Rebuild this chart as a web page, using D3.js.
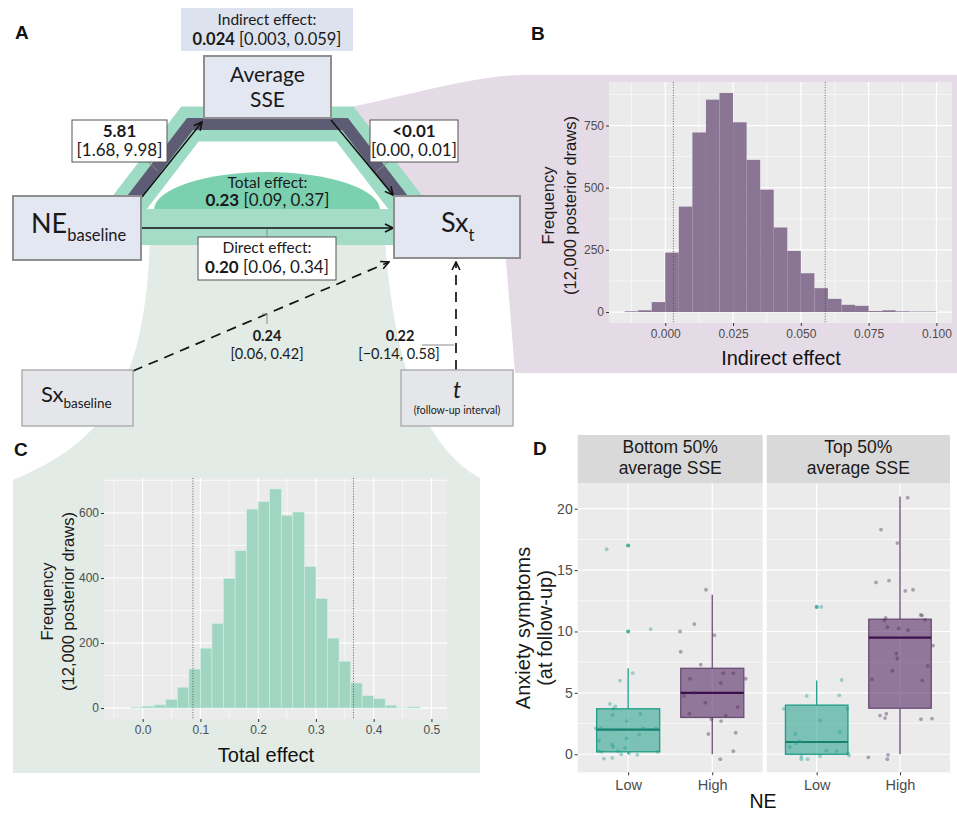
<!DOCTYPE html>
<html>
<head>
<meta charset="utf-8">
<script src="https://cdn.jsdelivr.net/npm/d3@7"></script>
<style>
  body { margin: 0; background: #fff; }
  svg { display: block; font-family: "Liberation Sans", Arial, sans-serif; }
  .dg { font-family: Lato, "Open Sans", sans-serif; fill: #1a1a1a; }
</style>
</head>
<body>
<svg id="fig" width="957" height="814"></svg>
<script>
// ---------- data ----------
// panel B: posterior draws of the indirect effect (bin lower edges + counts)
const indirectBins = [-0.015, -0.010, -0.005, 0.000, 0.005, 0.010, 0.015, 0.020, 0.025, 0.030, 0.035, 0.040,
                      0.045, 0.050, 0.055, 0.060, 0.065, 0.070, 0.075, 0.080, 0.085, 0.090, 0.095];
const indirectCounts = [3, 7, 40, 239, 424, 722, 854, 881, 763, 612, 492, 340, 246, 156, 96, 53, 29, 25, 4, 7, 3, 2, 2];
const indirectCI = [0.003, 0.059];
const indirectXTicks = [0, 0.025, 0.05, 0.075, 0.1];
const indirectYTicks = [0, 250, 500, 750];

// panel C: posterior draws of the total effect
const totalBins = [-0.04, -0.02, 0.00, 0.02, 0.04, 0.06, 0.08, 0.10, 0.12, 0.14, 0.16, 0.18, 0.20, 0.22,
                   0.24, 0.26, 0.28, 0.30, 0.32, 0.34, 0.36, 0.38, 0.40, 0.42, 0.44, 0.46, 0.48];
const totalCounts = [0, 3, 6, 10, 27, 64, 120, 184, 260, 399, 484, 612, 635, 674, 593, 603, 435, 337, 215, 144, 77, 38, 29, 9, 1, 4, 0];
const totalCI = [0.087, 0.365];
const totalXTicks = [0, 0.1, 0.2, 0.3, 0.4, 0.5];
const totalYTicks = [0, 200, 400, 600];

// panel D: boxplots, order = [bottom/Low, bottom/High, top/Low, top/High]
const facetNames = [["Bottom 50%", "average SSE"], ["Top 50%", "average SSE"]];
const neLevels = ["Low", "High"];
const boxWhiskLo = [0, 0, 0, 0];
const boxQ1 = [0.2, 3, 0, 3.75];
const boxMed = [2, 5, 1, 9.5];
const boxQ3 = [3.7, 7, 4, 11];
const boxWhiskHi = [7, 13, 6, 21];
const boxOutliers = [[10, 17], [], [12], []];
const anxietyYTicks = [0, 5, 10, 15, 20];
// jittered raw points: [horizontal jitter (category units), anxiety symptoms]
const ptsBottomLow = [[-0.256,16.7],[0.268,10.2],[0.054,6.6],[-0.098,6.0],[-0.216,4.1],[-0.153,3.9],[-0.177,3.7],
  [-0.184,3.2],[0.144,3.3],[-0.018,2.7],[-0.383,2.1],[-0.323,2.1],[-0.244,2.0],[0.18,2.1],[0.33,2.1],[0.132,1.6],
  [-0.018,1.3],[-0.347,1.1],[-0.189,0.8],[-0.181,0.6],[-0.038,0.5],[-0.351,0.25],[-0.315,0.2],[-0.125,0.25],
  [0.351,0.2],[-0.082,0.0],[0.013,0.1],[0.108,-0.05],[-0.288,-0.35],[-0.189,-0.3]];
const ptsBottomHigh = [[-0.074,13.4],[-0.213,10.6],[-0.383,10.0],[0.025,9.7],[-0.375,8.35],[-0.137,7.3],[-0.264,6.15],
  [0.132,6.6],[0.251,6.6],[0.398,6.15],[0.101,5.8],[-0.335,4.75],[-0.216,5.0],[-0.082,4.2],[0.303,3.85],[-0.272,3.3],
  [-0.011,2.85],[0.105,2.7],[0.161,3.15],[-0.046,1.65],[0.279,1.75],[0.251,0.25],[0.096,-0.4]];
const ptsTopLow = [[0.055,12.0],[0.3,6.05],[-0.12,4.75],[0.271,4.8],[-0.396,3.7],[0.367,3.7],[0.043,2.75],[0.276,1.8],
  [-0.257,1.65],[-0.204,1.05],[-0.248,0.9],[-0.324,0.6],[0.115,0.3],[0.24,0.25],[0.376,0.1],[0.388,-0.1],[0.04,-0.15],
  [-0.185,-0.2],[-0.185,-0.4],[-0.108,-0.4]];
const ptsTopHigh = [[0.092,20.9],[-0.228,18.3],[-0.032,17.2],[-0.288,14.0],[-0.132,14.15],[0.064,13.3],[0.156,13.4],
  [0.248,11.35],[0.264,11.3],[0.3,10.95],[-0.172,11.1],[-0.188,10.9],[-0.152,10.35],[-0.016,10.25],[0.096,10.1],
  [0.396,8.85],[-0.044,8.2],[-0.032,7.8],[0.332,7.2],[-0.092,6.8],[-0.336,6.1],[0.268,6.0],[-0.24,3.15],[-0.164,3.3],
  [-0.18,2.95],[0.252,2.85],[0.384,2.9],[-0.38,-0.25],[-0.144,-0.05],[-0.152,-0.4]];

// panel A: path estimates and credible intervals
const aPathEst = "5.81", aPathCI = "[1.68, 9.98]";
const bPathEst = "<0.01", bPathCI = "[0.00, 0.01]";
const indirectEst = "0.024", indirectInt = "[0.003, 0.059]";
const totalEst = "0.23", totalInt = "[0.09, 0.37]";
const directEst = "0.20", directInt = "[0.06, 0.34]";
const sxBaseEst = "0.24", sxBaseInt = "[0.06, 0.42]";
const tEst = "0.22", tInt = "[\u22120.14, 0.58]";

// ---------- drawing ----------
const svg = d3.select("#fig");

// backdrop shapes linking the diagram to panels B and C
svg.append("path")
  .attr("d", "M335,110 C400,98 470,76 520,75 L957,75 L957,373 L515,373 C511,320 508,285 505,250 L420,200 L400,190 Z")
  .attr("fill", "#e5dbe6");
svg.append("path")
  .attr("d", "M150,240 C145,380 110,440 13,480 L13,773 L480,773 L480,478 C430,450 395,380 385,240 Z")
  .attr("fill", "#e2ebe6");

// indirect path bands
const bandLine = d3.line();
const bandPts = [[104, 236], [190, 124], [345, 124], [431, 236]];
svg.append("path").attr("d", bandLine(bandPts)).attr("fill", "none")
  .attr("stroke", "#9edbc5").attr("stroke-width", 35).attr("stroke-linejoin", "miter");
svg.append("path").attr("d", bandLine(bandPts)).attr("fill", "none")
  .attr("stroke", "#5e5c74").attr("stroke-width", 12).attr("stroke-linejoin", "miter");

// total effect dome + direct band
svg.append("path").attr("d", "M154,210 A113,38 0 0 1 380,210 Z").attr("fill", "#7bd0b0");
svg.append("rect").attr("x", 130).attr("y", 209).attr("width", 280).attr("height", 36).attr("fill", "#a5dcc8");

// arrows
const defs = svg.append("defs");
defs.append("marker").attr("id", "arr").attr("viewBox", "0 0 10 10").attr("refX", 9).attr("refY", 5)
  .attr("markerWidth", 10).attr("markerHeight", 10).attr("markerUnits", "userSpaceOnUse").attr("orient", "auto")
  .append("path").attr("d", "M1,1 L9,5 L1,9").attr("fill", "none").attr("stroke", "#111").attr("stroke-width", 1.6);

const arrows = svg.append("g").attr("stroke", "#111").attr("stroke-width", 1.5).attr("fill", "none");
arrows.append("line").attr("x1", 142).attr("y1", 197).attr("x2", 202).attr("y2", 122).attr("marker-end", "url(#arr)");
arrows.append("line").attr("x1", 331).attr("y1", 120).attr("x2", 393).attr("y2", 195).attr("marker-end", "url(#arr)");
arrows.append("line").attr("x1", 141).attr("y1", 228).attr("x2", 393).attr("y2", 228).attr("marker-end", "url(#arr)");
arrows.append("line").attr("x1", 133).attr("y1", 371).attr("x2", 389).attr("y2", 262)
  .attr("stroke-dasharray", "10,7").attr("stroke-width", 1.7).attr("marker-end", "url(#arr)");
arrows.append("line").attr("x1", 456).attr("y1", 370).attr("x2", 456).attr("y2", 262)
  .attr("stroke-dasharray", "10,7").attr("stroke-width", 1.7).attr("marker-end", "url(#arr)");

// leader lines
const leaders = svg.append("g").attr("stroke", "#8a8a8a").attr("stroke-width", 1).attr("fill", "none");
leaders.append("path").attr("d", "M148,162 L158,171");
leaders.append("path").attr("d", "M388,162 L376,172");
leaders.append("path").attr("d", "M267,229 L267,237");
leaders.append("path").attr("d", "M262,314 L267,314 L267,324");
leaders.append("path").attr("d", "M422,345 L454,345");

// node boxes
function node(x, y, w, h, fill, stroke, sw) {
  svg.append("rect").attr("x", x).attr("y", y).attr("width", w).attr("height", h)
    .attr("fill", fill).attr("stroke", stroke).attr("stroke-width", sw);
}
node(204, 56, 127, 62, "#e2e7f2", "#8f8f8f", 2);
node(13, 196, 128, 64, "#e2e7f2", "#8f8f8f", 2);
node(394, 196, 126, 62, "#e2e7f2", "#8f8f8f", 2);
node(22, 370, 111, 56, "#e4e6ea", "#b0b0b0", 1.5);
node(401, 370, 112, 56, "#e4e6ea", "#b0b0b0", 1.5);
svg.append("rect").attr("x", 181).attr("y", 8).attr("width", 172).attr("height", 43).attr("fill", "#dde3ee");
node(72, 120, 95, 42, "#fff", "#555", 1);
node(370, 120, 88, 42, "#fff", "#555", 1);
node(198, 237, 138, 43, "#fff", "#555", 1);

// diagram text
function rich(x, y, parts, size, anchor) {
  const t = svg.append("text").attr("class", "dg").attr("x", x).attr("y", y)
    .attr("font-size", size).attr("text-anchor", anchor || "middle");
  parts.forEach(([s, b]) => t.append("tspan").attr("font-weight", b ? 700 : 400).text(s));
  return t;
}
rich(267, 25, [["Indirect effect:"]], 15.5);
rich(267, 45, [[indirectEst, 1], [" " + indirectInt]], 16.5);
rich(267.5, 82, [["Average"]], 21);
rich(267.5, 107, [["SSE"]], 21);
rich(119.5, 137, [[aPathEst, 1]], 17);
rich(119.5, 156, [[aPathCI]], 17);
rich(414, 137, [[bPathEst, 1]], 17);
rich(414, 156, [[bPathCI]], 17);
rich(267.5, 188, [["Total effect:"]], 15.5);
rich(267.5, 206, [[totalEst, 1], [" " + totalInt]], 17);
rich(267, 253, [["Direct effect:"]], 15.5);
rich(267, 273, [[directEst, 1], [" " + directInt]], 17);
rich(267, 341, [[sxBaseEst, 1]], 14.5);
rich(267, 359, [[sxBaseInt]], 14.5);
rich(400, 341, [[tEst, 1]], 14.5);
rich(399, 359, [[tInt]], 14.5);

const ne = svg.append("text").attr("class", "dg").attr("x", 31).attr("y", 233).attr("font-size", 27);
ne.append("tspan").text("NE");
ne.append("tspan").attr("font-size", 16.5).attr("dy", 8).text("baseline");
const sxt = svg.append("text").attr("class", "dg").attr("x", 441).attr("y", 232).attr("font-size", 27);
sxt.append("tspan").text("Sx");
sxt.append("tspan").attr("font-size", 16.5).attr("dy", 9).text("t");
const sxb = svg.append("text").attr("class", "dg").attr("x", 41).attr("y", 402).attr("font-size", 22);
sxb.append("tspan").text("Sx");
sxb.append("tspan").attr("font-size", 13.5).attr("dy", 6).text("baseline");
svg.append("text").attr("class", "dg").attr("x", 457).attr("y", 398).attr("font-size", 23)
  .attr("font-style", "italic").attr("text-anchor", "middle").text("t");
svg.append("text").attr("class", "dg").attr("x", 457).attr("y", 414).attr("font-size", 10.5)
  .attr("text-anchor", "middle").text("(follow-up interval)");

// panel letters
[["A", 15, 39], ["B", 531, 40], ["C", 14, 456], ["D", 533, 455]].forEach(([l, x, y]) =>
  svg.append("text").attr("x", x).attr("y", y).attr("font-size", 19).attr("font-weight", 700)
    .attr("fill", "#111").text(l));

// ---------- ggplot-like helpers ----------
function minorTicks(ticks, domain) {
  const step = ticks[1] - ticks[0];
  return d3.range(ticks[0] - step / 2, ticks[ticks.length - 1] + step, step)
    .filter(v => v > domain[0] && v < domain[1]);
}
function styleAxis(g, size) {
  g.select(".domain").remove();
  g.selectAll(".tick line").attr("stroke", "#333").attr("stroke-width", 1);
  g.selectAll(".tick text").attr("fill", "#4d4d4d").attr("font-size", size)
    .attr("font-family", "'Liberation Sans', Arial, sans-serif");
}
function panelBg(g, box) {
  g.append("rect").attr("x", box.l).attr("y", box.t).attr("width", box.r - box.l).attr("height", box.b - box.t)
    .attr("fill", "#ebebeb");
}
function grid(g, x, y, xMaj, xMin, yMaj, yMin, box) {
  const gr = g.append("g").attr("stroke", "#fff").attr("fill", "none");
  yMin.forEach(v => gr.append("line").attr("x1", box.l).attr("x2", box.r).attr("y1", y(v)).attr("y2", y(v)).attr("stroke-width", 0.6));
  xMin.forEach(v => gr.append("line").attr("y1", box.t).attr("y2", box.b).attr("x1", x(v)).attr("x2", x(v)).attr("stroke-width", 0.6));
  yMaj.forEach(v => gr.append("line").attr("x1", box.l).attr("x2", box.r).attr("y1", y(v)).attr("y2", y(v)).attr("stroke-width", 1.2));
  xMaj.forEach(v => gr.append("line").attr("y1", box.t).attr("y2", box.b).attr("x1", x(v)).attr("x2", x(v)).attr("stroke-width", 1.2));
}
function yTitle(lines, xs, cy, size) {
  lines.forEach((s, i) => svg.append("text").attr("transform", `translate(${xs[i]},${cy}) rotate(-90)`)
    .attr("text-anchor", "middle").attr("font-size", size).attr("fill", "#1a1a1a").text(s));
}

function histogram(o) {
  const w = o.bins[1] - o.bins[0];
  const lo = o.bins[0], hi = o.bins[o.bins.length - 1] + w, pad = (hi - lo) * 0.05;
  const x = d3.scaleLinear().domain([lo - pad, hi + pad]).range([o.box.l, o.box.r]);
  const ymax = d3.max(o.counts);
  const y = d3.scaleLinear().domain([-ymax * 0.05, ymax * 1.05]).range([o.box.b, o.box.t]);
  const g = svg.append("g");
  panelBg(g, o.box);
  grid(g, x, y, o.xTicks, minorTicks(o.xTicks, x.domain()), o.yTicks, minorTicks(o.yTicks, y.domain()), o.box);
  g.append("g").selectAll("rect").data(o.counts.map((c, i) => ({ x0: o.bins[i], c })).filter(d => d.c > 0))
    .join("rect")
    .attr("x", d => x(d.x0)).attr("width", d => x(d.x0 + w) - x(d.x0))
    .attr("y", d => y(d.c)).attr("height", d => y(0) - y(d.c))
    .attr("fill", o.fill).attr("stroke", o.stroke).attr("stroke-width", o.stroke === "none" ? 0 : 0.6);
  g.append("g").selectAll("line").data(o.ci).join("line")
    .attr("x1", d => x(d)).attr("x2", d => x(d)).attr("y1", o.box.t).attr("y2", o.box.b)
    .attr("stroke", "#444").attr("stroke-width", 0.8).attr("stroke-dasharray", "1,1.6");
  const ax = g.append("g").attr("transform", `translate(0,${o.box.b})`)
    .call(d3.axisBottom(x).tickValues(o.xTicks).tickSize(3).tickPadding(3).tickFormat(o.fmt));
  styleAxis(ax, 12);
  const ay = g.append("g").attr("transform", `translate(${o.box.l},0)`)
    .call(d3.axisLeft(y).tickValues(o.yTicks).tickSize(3).tickPadding(2));
  styleAxis(ay, 12);
  svg.append("text").attr("x", o.titleX).attr("y", o.titleY).attr("text-anchor", "middle")
    .attr("font-size", 20).attr("fill", "#111").text(o.title);
  yTitle(["Frequency", "(12,000 posterior draws)"], o.yTitleX, (o.box.t + o.box.b) / 2 + 3, 16.5);
}

histogram({
  bins: indirectBins, counts: indirectCounts, ci: indirectCI, xTicks: indirectXTicks, yTicks: indirectYTicks,
  box: { l: 609, r: 952, t: 82, b: 323 }, fill: "#8b7595", stroke: "none", fmt: d3.format(".3f"),
  title: "Indirect effect", titleX: 781, titleY: 365, yTitleX: [554, 576]
});
histogram({
  bins: totalBins, counts: totalCounts, ci: totalCI, xTicks: totalXTicks, yTicks: totalYTicks,
  box: { l: 104, r: 447, t: 478, b: 719 }, fill: "#a0d6c1", stroke: "#d3ede3", fmt: d3.format(".1f"),
  title: "Total effect", titleX: 266, titleY: 762, yTitleX: [53, 74]
});

// ---------- panel D ----------
const facetBoxes = [{ l: 577.7, r: 762.7 }, { l: 766.7, r: 950 }];
const dTop = 483.3, dBot = 772.3, stripTop = 435;
const allPts = [ptsBottomLow, ptsBottomHigh, ptsTopLow, ptsTopHigh];
const yVals = allPts.flat().map(d => d[1]).concat(boxWhiskHi, boxWhiskLo);
const yLo = d3.min(yVals), yHi = d3.max(yVals), yPad = (yHi - yLo) * 0.05;
const yD = d3.scaleLinear().domain([yLo - yPad, yHi + yPad]).range([dBot, dTop]);
const cols = { Low: { fill: "#1f9e89", line: "#1f9e89", med: "#17806f", pt: "#1f9e89" },
               High: { fill: "#471856", line: "#6b4c77", med: "#3d0f4c", pt: "#4a2a58" } };

facetBoxes.forEach((fb, fi) => {
  const box = { l: fb.l, r: fb.r, t: dTop, b: dBot };
  const x = d3.scaleLinear().domain([0.4, 2.6]).range([fb.l, fb.r]);
  const g = svg.append("g");
  panelBg(g, box);
  grid(g, x, yD, [1, 2], [], anxietyYTicks, minorTicks(anxietyYTicks, yD.domain()), box);
  // strip
  g.append("rect").attr("x", fb.l).attr("y", stripTop).attr("width", fb.r - fb.l).attr("height", dTop - stripTop)
    .attr("fill", "#d9d9d9");
  facetNames[fi].forEach((s, li) => g.append("text").attr("x", (fb.l + fb.r) / 2).attr("y", 453 + li * 21)
    .attr("text-anchor", "middle").attr("font-size", 17.5).attr("fill", "#1a1a1a").text(s));

  neLevels.forEach((lev, li) => {
    const k = fi * 2 + li, c = cols[lev], cx = li + 1, hw = 0.375;
    // whiskers
    g.append("line").attr("x1", x(cx)).attr("x2", x(cx)).attr("y1", yD(boxQ3[k])).attr("y2", yD(boxWhiskHi[k]))
      .attr("stroke", c.line).attr("stroke-width", 1.3);
    g.append("line").attr("x1", x(cx)).attr("x2", x(cx)).attr("y1", yD(boxQ1[k])).attr("y2", yD(boxWhiskLo[k]))
      .attr("stroke", c.line).attr("stroke-width", 1.3);
    // box
    g.append("rect").attr("x", x(cx - hw)).attr("width", x(cx + hw) - x(cx - hw))
      .attr("y", yD(boxQ3[k])).attr("height", yD(boxQ1[k]) - yD(boxQ3[k]))
      .attr("fill", c.fill).attr("fill-opacity", 0.55).attr("stroke", c.line).attr("stroke-width", 1.3);
    g.append("line").attr("x1", x(cx - hw)).attr("x2", x(cx + hw)).attr("y1", yD(boxMed[k])).attr("y2", yD(boxMed[k]))
      .attr("stroke", c.med).attr("stroke-width", 2.2);
    // outliers
    g.append("g").selectAll("circle").data(boxOutliers[k]).join("circle")
      .attr("cx", x(cx)).attr("cy", d => yD(d)).attr("r", 2).attr("fill", c.pt).attr("fill-opacity", 0.8);
    // jittered points
    g.append("g").selectAll("circle").data(allPts[k]).join("circle")
      .attr("cx", d => x(cx + d[0])).attr("cy", d => yD(d[1])).attr("r", 1.9)
      .attr("fill", c.pt).attr("fill-opacity", 0.4);
  });

  const ax = g.append("g").attr("transform", `translate(0,${dBot})`)
    .call(d3.axisBottom(x).tickValues([1, 2]).tickSize(3).tickPadding(4).tickFormat((d, i) => neLevels[i]));
  styleAxis(ax, 14.5);
  if (fi === 0) {
    const ay = g.append("g").attr("transform", `translate(${fb.l},0)`)
      .call(d3.axisLeft(yD).tickValues(anxietyYTicks).tickSize(3).tickPadding(2));
    styleAxis(ay, 14);
  }
});
svg.append("text").attr("x", 763).attr("y", 808).attr("text-anchor", "middle").attr("font-size", 19.5)
  .attr("fill", "#111").text("NE");
yTitle(["Anxiety symptoms", "(at follow-up)"], [530, 552], 628, 20);
</script>
</body>
</html>
